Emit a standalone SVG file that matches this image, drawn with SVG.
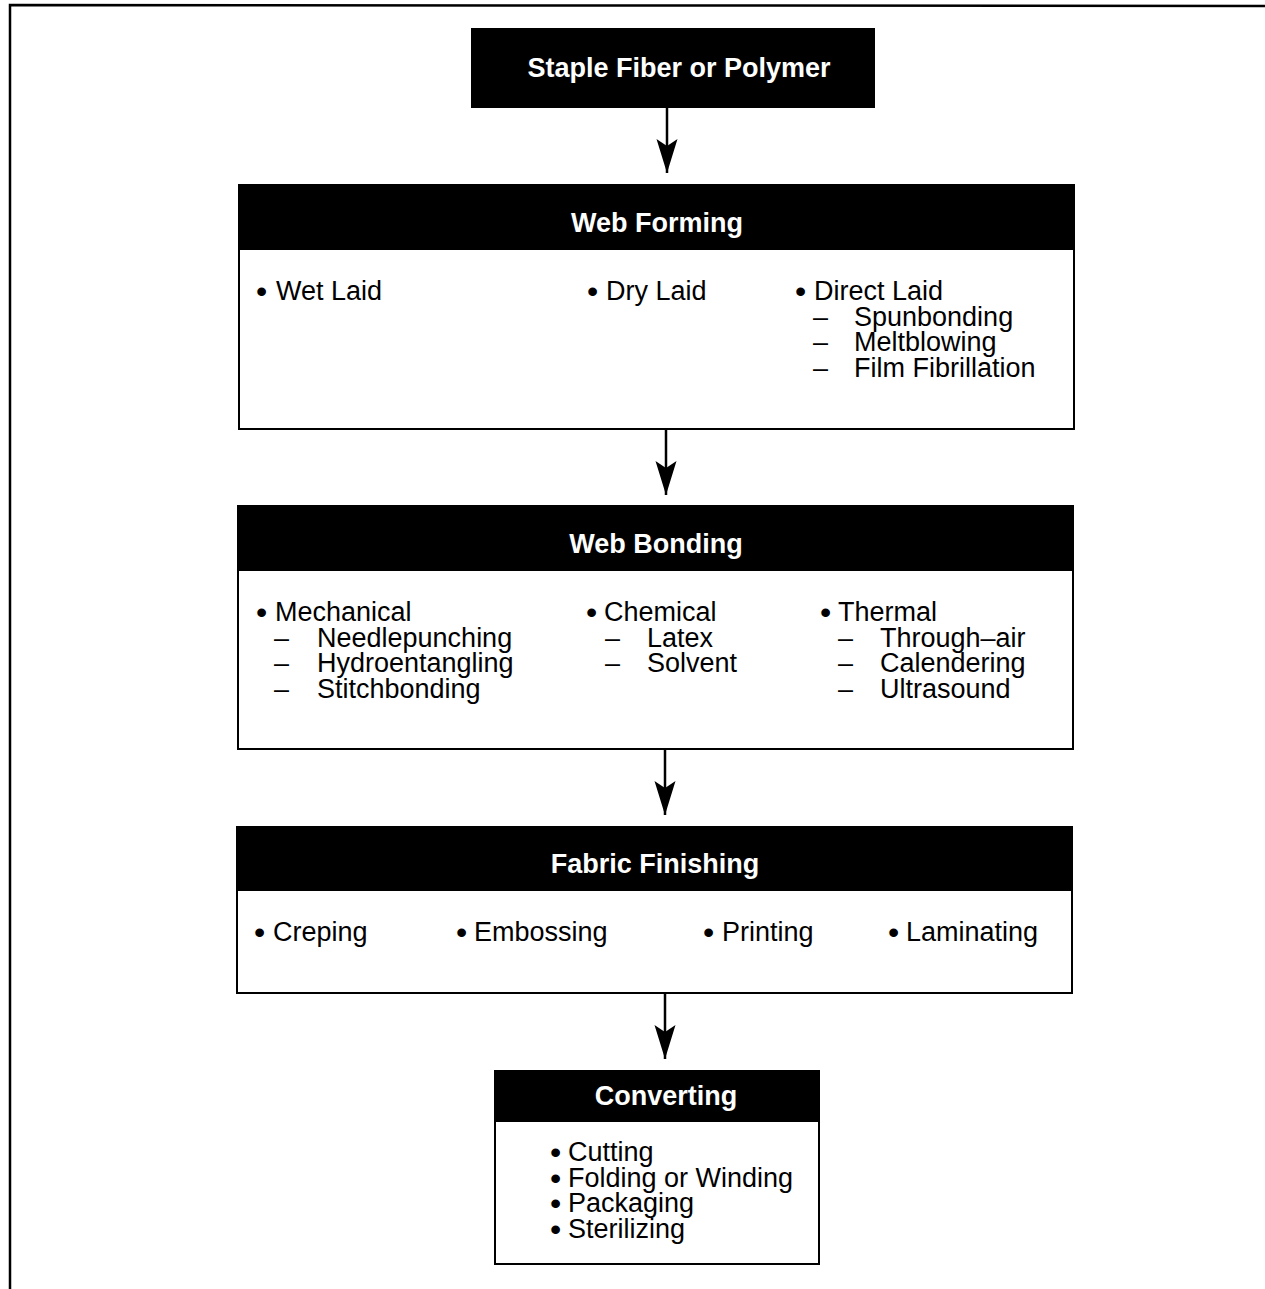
<svg xmlns="http://www.w3.org/2000/svg" width="1265" height="1289" viewBox="0 0 1265 1289">
<style>
.box{fill:#fff;stroke:#000;stroke-width:2}
.hdr{fill:#000;stroke:#000;stroke-width:2}
.ht{font-family:"Liberation Sans",Arial,sans-serif;font-weight:bold;font-size:27px;fill:#fff;text-anchor:middle}
.bt{font-family:"Liberation Sans",Arial,sans-serif;font-size:27px;fill:#000}
.bl{font-size:32px}
.conn{stroke:#000;stroke-width:2.5;fill:none}
</style>
<defs>
<marker id="ah" markerUnits="userSpaceOnUse" markerWidth="36" markerHeight="22" viewBox="0 0 36 22" refX="34" refY="11" orient="auto">
<path d="M34,11 L0,0.5 L7,11 L0,21.5 Z" fill="#000"/>
</marker>
</defs>
<rect width="1265" height="1289" fill="#fff"/>
<g id="frame">
<path d="M10,1289 L10,5 L1265,6" fill="none" stroke="#000" stroke-width="2.5"/>
</g>
<g id="connectors">
<path class="conn" d="M667,107 L667,173" marker-end="url(#ah)"/>
<path class="conn" d="M666,429 L666,495" marker-end="url(#ah)"/>
<path class="conn" d="M665,749 L665,815" marker-end="url(#ah)"/>
<path class="conn" d="M665,993 L665,1059" marker-end="url(#ah)"/>
</g>
<g id="staple">
<rect class="hdr" x="472" y="29" width="402" height="78"/>
<text class="ht" x="679" y="77">Staple Fiber or Polymer</text>
</g>
<g id="web-forming">
<rect class="box" x="239" y="185" width="835" height="244"/>
<rect class="hdr" x="239" y="185" width="835" height="64"/>
<text class="ht" x="657" y="232">Web Forming</text>
<text class="bt" y="300"><tspan class="bl" x="256" dy="2">•</tspan><tspan x="276" dy="-2">Wet Laid</tspan></text>
<text class="bt" y="300"><tspan class="bl" x="587" dy="2">•</tspan><tspan x="606" dy="-2">Dry Laid</tspan></text>
<text class="bt" y="300"><tspan class="bl" x="795" dy="2">•</tspan><tspan x="814" dy="-2">Direct Laid</tspan></text>
<text class="bt" y="326"><tspan x="813">–</tspan><tspan x="854">Spunbonding</tspan></text>
<text class="bt" y="351"><tspan x="813">–</tspan><tspan x="854">Meltblowing</tspan></text>
<text class="bt" y="377"><tspan x="813">–</tspan><tspan x="854">Film Fibrillation</tspan></text>
</g>
<g id="web-bonding">
<rect class="box" x="238" y="506" width="835" height="243"/>
<rect class="hdr" x="238" y="506" width="835" height="64"/>
<text class="ht" x="656" y="553">Web Bonding</text>
<text class="bt" y="621"><tspan class="bl" x="256" dy="2">•</tspan><tspan x="275" dy="-2">Mechanical</tspan></text>
<text class="bt" y="647"><tspan x="274">–</tspan><tspan x="317">Needlepunching</tspan></text>
<text class="bt" y="672"><tspan x="274">–</tspan><tspan x="317">Hydroentangling</tspan></text>
<text class="bt" y="698"><tspan x="274">–</tspan><tspan x="317">Stitchbonding</tspan></text>
<text class="bt" y="621"><tspan class="bl" x="586" dy="2">•</tspan><tspan x="604" dy="-2">Chemical</tspan></text>
<text class="bt" y="647"><tspan x="605">–</tspan><tspan x="647">Latex</tspan></text>
<text class="bt" y="672"><tspan x="605">–</tspan><tspan x="647">Solvent</tspan></text>
<text class="bt" y="621"><tspan class="bl" x="820" dy="2">•</tspan><tspan x="838" dy="-2">Thermal</tspan></text>
<text class="bt" y="647"><tspan x="838">–</tspan><tspan x="880">Through–air</tspan></text>
<text class="bt" y="672"><tspan x="838">–</tspan><tspan x="880">Calendering</tspan></text>
<text class="bt" y="698"><tspan x="838">–</tspan><tspan x="880">Ultrasound</tspan></text>
</g>
<g id="fabric-finishing">
<rect class="box" x="237" y="827" width="835" height="166"/>
<rect class="hdr" x="237" y="827" width="835" height="63"/>
<text class="ht" x="655" y="873">Fabric Finishing</text>
<text class="bt" y="941"><tspan class="bl" x="254" dy="2">•</tspan><tspan x="273" dy="-2">Creping</tspan></text>
<text class="bt" y="941"><tspan class="bl" x="456" dy="2">•</tspan><tspan x="474" dy="-2">Embossing</tspan></text>
<text class="bt" y="941"><tspan class="bl" x="703" dy="2">•</tspan><tspan x="722" dy="-2">Printing</tspan></text>
<text class="bt" y="941"><tspan class="bl" x="888" dy="2">•</tspan><tspan x="906" dy="-2">Laminating</tspan></text>
</g>
<g id="converting">
<rect class="box" x="495" y="1071" width="324" height="193"/>
<rect class="hdr" x="495" y="1071" width="324" height="50"/>
<text class="ht" x="666" y="1105">Converting</text>
<text class="bt" y="1161"><tspan class="bl" x="550" dy="2">•</tspan><tspan x="568" dy="-2">Cutting</tspan></text>
<text class="bt" y="1187"><tspan class="bl" x="550" dy="2">•</tspan><tspan x="568" dy="-2">Folding or Winding</tspan></text>
<text class="bt" y="1212"><tspan class="bl" x="550" dy="2">•</tspan><tspan x="568" dy="-2">Packaging</tspan></text>
<text class="bt" y="1238"><tspan class="bl" x="550" dy="2">•</tspan><tspan x="568" dy="-2">Sterilizing</tspan></text>
</g>
</svg>
